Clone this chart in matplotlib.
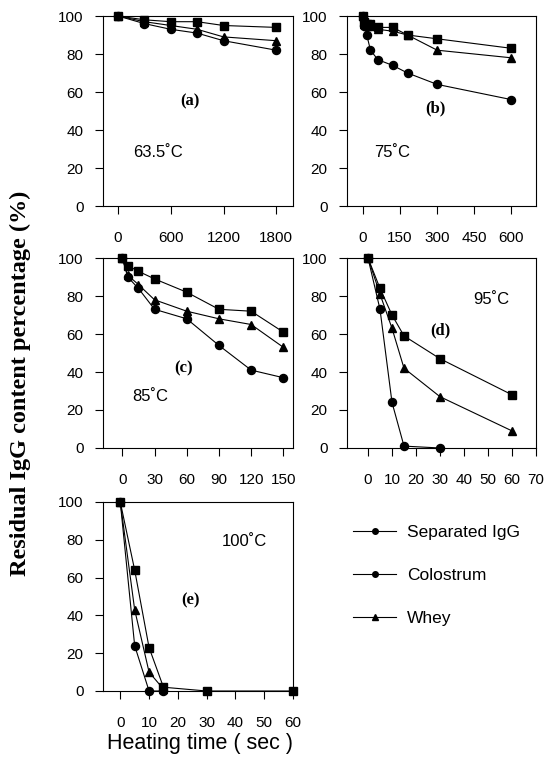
import matplotlib
matplotlib.use("Agg")
import matplotlib.pyplot as plt
from matplotlib.lines import Line2D

# ---------------- data ----------------
series_names = ["Separated IgG", "Colostrum", "Whey"]

# (a) 63.5 C
t_a = [0, 300, 600, 900, 1200, 1800]
a_circle = [100, 96, 93, 91, 87, 82]
a_square = [100, 98, 97, 97, 95, 94]
a_tri = [100, 97, 95, 93, 89, 87]

# (b) 75 C
t_b = [0, 5, 15, 30, 60, 120, 180, 300, 600]
b_circle = [100, 95, 90, 82, 77, 74, 70, 64, 56]
b_square = [100, 97, 96, 96, 94, 94, 90, 88, 83]
b_tri = [100, 96, 95, 95, 93, 92, 90, 82, 78]

# (c) 85 C
t_c = [0, 5, 15, 30, 60, 90, 120, 150]
c_circle = [100, 90, 84, 73, 68, 54, 41, 37]
c_square = [100, 96, 93, 89, 82, 73, 72, 61]
c_tri = [100, 91, 86, 78, 72, 68, 65, 53]

# (d) 95 C
t_d = [0, 5, 10, 15, 30, 60]
t_d_circle = [0, 5, 10, 15, 30]
d_circle = [100, 73, 24, 1, 0]
d_square = [100, 84, 70, 59, 47, 28]
d_tri = [100, 81, 63, 42, 27, 9]

# (e) 100 C
t_e_circle = [0, 5, 10, 15]
e_circle = [100, 24, 0, 0]
t_e_square = [0, 5, 10, 15, 30, 60]
e_square = [100, 64, 23, 2, 0, 0]
t_e_tri = [0, 5, 10, 15]
e_tri = [100, 43, 10, 1]

ticks_a = [0, 600, 1200, 1800]
ticks_b = [0, 150, 300, 450, 600]
ticks_c = [0, 30, 60, 90, 120, 150]
ticks_d = [0, 10, 20, 30, 40, 50, 60, 70]
ticks_e = [0, 10, 20, 30, 40, 50, 60]
yticks = [0, 20, 40, 60, 80, 100]

# ---------------- figure ----------------
fig = plt.figure(figsize=(5.48, 7.64), dpi=100)
W, H = 548.0, 764.0

def rect(l, t, r, b):
    return [l / W, 1 - b / H, (r - l) / W, (b - t) / H]

sans = ["Liberation Sans", "DejaVu Sans"]
serif = ["Liberation Serif", "DejaVu Serif"]

panels = [
    dict(rect=rect(103, 16, 293, 206), xlim=(-170, 1990), ticks=ticks_a,
         data=[(t_a, a_square, "s"), (t_a, a_tri, "^"), (t_a, a_circle, "o")],
         tag="(a)", tagpos=(0.46, 0.553), temp="63.5\u02daC", temppos=(0.292, 0.282)),
    dict(rect=rect(347, 16, 536, 206), xlim=(-65, 700), ticks=ticks_b,
         data=[(t_b, b_square, "s"), (t_b, b_tri, "^"), (t_b, b_circle, "o")],
         tag="(b)", tagpos=(0.466, 0.513), temp="75\u02daC", temppos=(0.241, 0.279)),
    dict(rect=rect(103, 258, 293, 448), xlim=(-18, 159), ticks=ticks_c,
         data=[(t_c, c_square, "s"), (t_c, c_tri, "^"), (t_c, c_circle, "o")],
         tag="(c)", tagpos=(0.426, 0.421), temp="85\u02daC", temppos=(0.247, 0.271)),
    dict(rect=rect(347, 258, 536, 448), xlim=(-8.75, 70), ticks=ticks_d,
         data=[(t_d, d_square, "s"), (t_d, d_tri, "^"), (t_d_circle, d_circle, "o")],
         tag="(d)", tagpos=(0.495, 0.618), temp="95\u02daC", temppos=(0.762, 0.784)),
    dict(rect=rect(103, 502, 293, 691), xlim=(-6, 60), ticks=ticks_e,
         data=[(t_e_square, e_square, "s"), (t_e_tri, e_tri, "^"), (t_e_circle, e_circle, "o")],
         tag="(e)", tagpos=(0.463, 0.481), temp="100\u02daC", temppos=(0.745, 0.791)),
]

for p in panels:
    ax = fig.add_axes(p["rect"])
    for xs, ys, m in p["data"]:
        ax.plot(xs, ys, color="black", lw=0.8, marker=m, ms=5.8,
                mfc="black", mec="black", clip_on=False, zorder=3)
    ax.set_xlim(*p["xlim"])
    ax.set_ylim(0, 100)
    ax.set_xticks(p["ticks"])
    ax.set_xticklabels([str(t) for t in p["ticks"]], family=sans, fontsize=11)
    ax.set_yticks(yticks)
    ax.set_yticklabels([str(t) for t in yticks], family=sans, fontsize=11)
    ax.tick_params(axis="x", direction="out", length=6, width=0.8, pad=12)
    ax.tick_params(axis="y", direction="out", length=6, width=0.8, pad=8)
    for s in ax.spines.values():
        s.set_linewidth(0.8)
        s.set_color("black")
    ax.text(*p["tagpos"], p["tag"], transform=ax.transAxes, ha="center", va="center",
            family=serif, fontweight="bold", fontsize=12)
    ax.text(*p["temppos"], p["temp"], transform=ax.transAxes, ha="center", va="center",
            family=sans, fontsize=12)

# legend
handles = [
    Line2D([], [], color="black", lw=0.8, marker="o", ms=4),
    Line2D([], [], color="black", lw=0.8, marker="o", ms=4),
    Line2D([], [], color="black", lw=0.8, marker="^", ms=4),
]
fig.legend(handles, series_names, loc="upper left",
           bbox_to_anchor=(353 / W, 1 - 525 / H), frameon=False,
           prop={"family": sans, "size": 12.5}, handlelength=2.5,
           handletextpad=0.6, labelspacing=1.6, borderpad=0, borderaxespad=0)

fig.text(20 / W, 1 - 383 / H, "Residual IgG content percentage (%)", rotation=90,
         ha="center", va="center", family=serif, fontweight="bold", fontsize=17.5)
fig.text(200 / W, 1 - 743 / H, "Heating time ( sec )", ha="center", va="center",
         family=sans, fontsize=15.5)

fig.savefig("out.png", dpi=100)
